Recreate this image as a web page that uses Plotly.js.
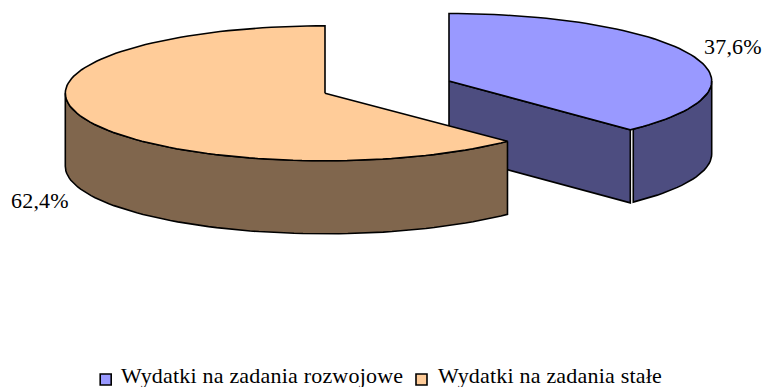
<!DOCTYPE html>
<html>
<head>
<meta charset="utf-8">
<script src="https://cdn.plot.ly/plotly-3.0.1.min.js"></script>
<style>html,body{margin:0;padding:0;background:#fff}#c{width:763px;height:387px}
.annotation-text{letter-spacing:.2px}</style>
</head>
<body>
<div id="c"></div>
<script>
const categories = ["Wydatki na zadania rozwojowe", "Wydatki na zadania stałe"];
const values = [37.6, 62.4];
const valueLabels = ["37,6%", "62,4%"];
const topColors = ["#9999FF", "#FFCC99"];
const sideColors = ["#4D4D80", "#80664D"];

const H = 73, RY = 67.5;
const centers = [[449, 81], [325, 93.3]];
const rxs = [262.7, 259.7];
const tiltRight = 1, wallGap = 0.9;
const total = values[0] + values[1];
const sweep = values.map(v => v / total * 360);
const rad = d => d * Math.PI / 180;
function arc(c, rx, a0, a1, dy) {
  const xs = [], ys = [], n = Math.max(2, Math.ceil(Math.abs(a1 - a0) / 2));
  for (let i = 0; i <= n; i++) {
    const a = rad(a0 + (a1 - a0) * i / n);
    xs.push(c[0] + rx * Math.sin(a));
    ys.push(c[1] - RY * Math.cos(a) + (dy || 0));
  }
  return [xs, ys];
}
function poly(xs, ys, fill) {
  return {x: xs, y: ys, type: 'scatter', mode: 'lines', fill: 'toself', fillcolor: fill,
    line: {color: '#000', width: 1.6}, hoverinfo: 'skip', showlegend: false};
}
const traces = [];
const a1 = sweep[0];
{
  const c = centers[0], rx = rxs[0], end = a1 + tiltRight;
  const e = arc(c, rx, 0, end);
  const ex = e[0][e[0].length - 1], ey = e[1][e[1].length - 1];
  traces.push(poly([c[0], ex, ex, c[0], c[0]], [c[1], ey, ey + H, c[1] + H, c[1]], sideColors[0]));
  const wallEnd = end - wallGap;
  const wTop = arc(c, rx, 90, wallEnd), wBot = arc(c, rx, wallEnd, 90, H);
  traces.push(poly(wTop[0].concat(wBot[0], [wTop[0][0]]), wTop[1].concat(wBot[1], [wTop[1][0]]), sideColors[0]));
  traces.push(poly([c[0]].concat(e[0], [c[0]]), [c[1]].concat(e[1], [c[1]]), topColors[0]));
}
{
  const c = centers[1], rx = rxs[1];
  const e = arc(c, rx, a1, 360);
  const wTop = arc(c, rx, a1, 270), wBot = arc(c, rx, 270, a1, H);
  traces.push(poly(wTop[0].concat(wBot[0], [wTop[0][0]]), wTop[1].concat(wBot[1], [wTop[1][0]]), sideColors[1]));
  traces.push(poly([c[0]].concat(e[0], [c[0]]), [c[1]].concat(e[1], [c[1]]), topColors[1]));
}
const swatchX = [105.7, 421.5], swatchY = 379.5, textX = [120, 436.5], textY = 375.5;
traces.push({x: swatchX, y: [swatchY, swatchY], type: 'scatter', mode: 'markers',
  marker: {symbol: 'square', size: 11, color: topColors, line: {color: '#000', width: 1.6}},
  hoverinfo: 'skip', showlegend: false});

const serif = '"Liberation Serif", "Times New Roman", serif';
const note = (x, y, text) => ({x, y, text, xanchor: 'left', yanchor: 'middle', showarrow: false,
  borderpad: 0, font: {family: serif, size: 22, color: '#000'}});
const annotations = [
  note(702.5, 46, valueLabels[0]),
  note(9.5, 200.5, valueLabels[1]),
  note(textX[0], textY, categories[0]),
  note(textX[1], textY, categories[1])
];
Plotly.newPlot('c', traces, {
  width: 763, height: 387,
  margin: {l: 0, r: 0, t: 0, b: 0},
  paper_bgcolor: '#fff', plot_bgcolor: '#fff',
  showlegend: false,
  xaxis: {range: [0, 763], visible: false, fixedrange: true},
  yaxis: {range: [387, 0], visible: false, fixedrange: true},
  annotations
}, {displayModeBar: false, staticPlot: true});
</script>
</body>
</html>
